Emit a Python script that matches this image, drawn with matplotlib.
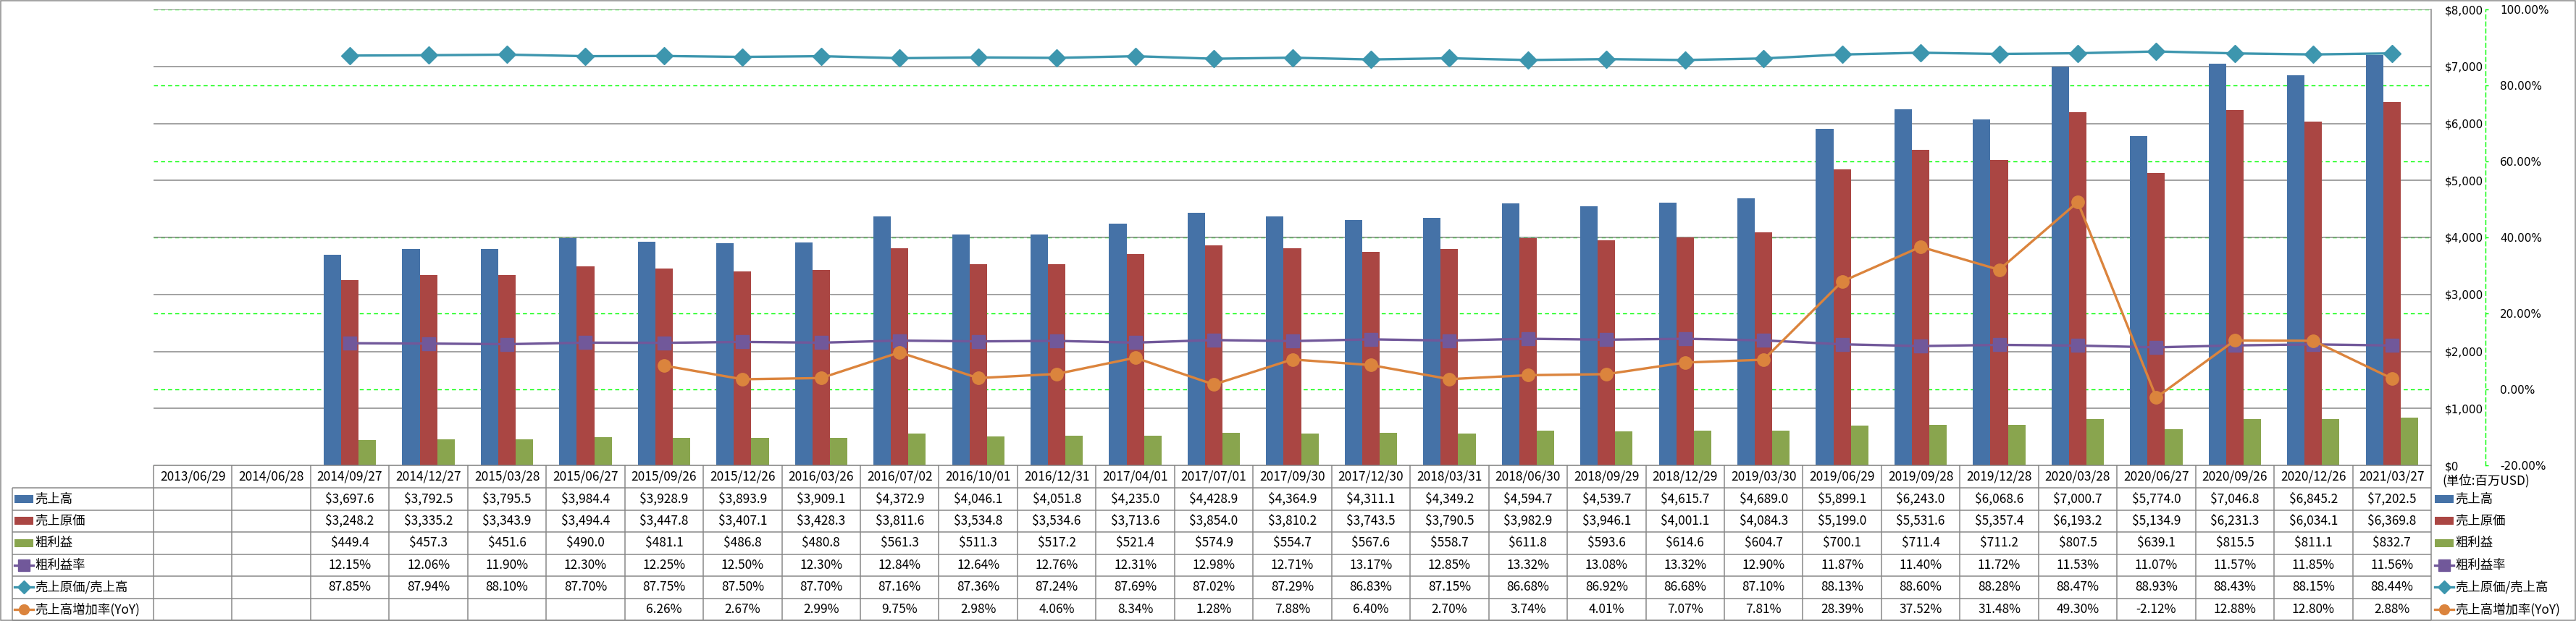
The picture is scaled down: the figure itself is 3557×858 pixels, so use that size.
import numpy as np
import matplotlib
matplotlib.use('Agg')
import matplotlib.pyplot as plt
from matplotlib.lines import Line2D
from matplotlib.patches import Rectangle

nan = np.nan
dates = ['2013/06/29', '2014/06/28', '2014/09/27', '2014/12/27', '2015/03/28', '2015/06/27',
         '2015/09/26', '2015/12/26', '2016/03/26', '2016/07/02', '2016/10/01', '2016/12/31',
         '2017/04/01', '2017/07/01', '2017/09/30', '2017/12/30', '2018/03/31', '2018/06/30',
         '2018/09/29', '2018/12/29', '2019/03/30', '2019/06/29', '2019/09/28', '2019/12/28',
         '2020/03/28', '2020/06/27', '2020/09/26', '2020/12/26', '2021/03/27']
sales = [nan, nan, 3697.6, 3792.5, 3795.5, 3984.4, 3928.9, 3893.9, 3909.1, 4372.9, 4046.1, 4051.8,
         4235.0, 4428.9, 4364.9, 4311.1, 4349.2, 4594.7, 4539.7, 4615.7, 4689.0, 5899.1, 6243.0,
         6068.6, 7000.7, 5774.0, 7046.8, 6845.2, 7202.5]
cost = [nan, nan, 3248.2, 3335.2, 3343.9, 3494.4, 3447.8, 3407.1, 3428.3, 3811.6, 3534.8, 3534.6,
        3713.6, 3854.0, 3810.2, 3743.5, 3790.5, 3982.9, 3946.1, 4001.1, 4084.3, 5199.0, 5531.6,
        5357.4, 6193.2, 5134.9, 6231.3, 6034.1, 6369.8]
gross = [nan, nan, 449.4, 457.3, 451.6, 490.0, 481.1, 486.8, 480.8, 561.3, 511.3, 517.2, 521.4,
         574.9, 554.7, 567.6, 558.7, 611.8, 593.6, 614.6, 604.7, 700.1, 711.4, 711.2, 807.5, 639.1,
         815.5, 811.1, 832.7]
gm_rate = [nan, nan, 12.15, 12.06, 11.90, 12.30, 12.25, 12.50, 12.30, 12.84, 12.64, 12.76, 12.31,
           12.98, 12.71, 13.17, 12.85, 13.32, 13.08, 13.32, 12.90, 11.87, 11.40, 11.72, 11.53,
           11.07, 11.57, 11.85, 11.56]
cost_ratio = [nan, nan, 87.85, 87.94, 88.10, 87.70, 87.75, 87.50, 87.70, 87.16, 87.36, 87.24,
              87.69, 87.02, 87.29, 86.83, 87.15, 86.68, 86.92, 86.68, 87.10, 88.13, 88.60, 88.28,
              88.47, 88.93, 88.43, 88.15, 88.44]
yoy = [nan, nan, nan, nan, nan, nan, 6.26, 2.67, 2.99, 9.75, 2.98, 4.06, 8.34, 1.28, 7.88, 6.40,
       2.70, 3.74, 4.01, 7.07, 7.81, 28.39, 37.52, 31.48, 49.30, -2.12, 12.88, 12.80, 2.88]
names = ['売上高', '売上原価', '粗利益', '粗利益率', '売上原価/売上高', '売上高増加率(YoY)']
usd_ticks = [0, 1000, 2000, 3000, 4000, 5000, 6000, 7000, 8000]
pct_ticks = [-20, 0, 20, 40, 60, 80, 100]
unit_label = '(単位:百万USD)'

C_BLUE, C_RED, C_GREEN = '#4572A7', '#AA4643', '#89A54E'
C_PURP, C_TEAL, C_ORNG = '#71589A', '#3D96AE', '#DB843D'
GRID = '#868686'
LIME = '#00FF00'

W, H, DPI = 3557, 858, 100
PX = 72 / DPI
fig = plt.figure(figsize=(W / DPI, H / DPI), dpi=DPI)
fig.patch.set_facecolor('white')

L, R, T, B = 212, 3357, 13, 643
rect = [L / W, 1 - B / H, (R - L) / W, (B - T) / H]
n = len(dates)
x = np.arange(n)

# secondary (percent) axis: background green grid + labels
axg = fig.add_axes(rect)
axg.set_zorder(0)
axg.patch.set_visible(False)
axg.set_xlim(-0.5, n - 0.5)
axg.set_ylim(-20, 100)
axg.set_xticks([])
axg.yaxis.tick_right()
axg.set_yticks(pct_ticks)
axg.set_yticklabels([f'{v:.2f}%' for v in pct_ticks])
axg.tick_params(axis='y', colors=LIME, labelcolor='black', length=4 * PX, width=1.4 * PX,
                pad=16 * PX, labelsize=11)
axg.get_yticklabels()[0].set_color('red')
axg.yaxis.grid(True, color=LIME, linestyle=(0, (4, 3)), linewidth=1.4 * PX)
for s in ['left', 'top', 'bottom']:
    axg.spines[s].set_visible(False)
axg.spines['right'].set_position(('outward', 75 * PX))
axg.spines['right'].set_color(LIME)
axg.spines['right'].set_linestyle((0, (4, 3)))
axg.spines['right'].set_linewidth(1.4 * PX)

# primary (USD) axis: bars
ax = fig.add_axes(rect)
ax.set_zorder(1)
ax.patch.set_visible(False)
ax.set_xlim(-0.5, n - 0.5)
ax.set_ylim(0, 8000)
ax.set_xticks([])
ax.yaxis.tick_right()
ax.set_yticks(usd_ticks)
ax.set_yticklabels([f'${v:,}' for v in usd_ticks])
ax.tick_params(axis='y', length=0, pad=19 * PX, labelsize=11)
ax.yaxis.grid(True, color=GRID, linewidth=1.5 * PX)
ax.set_axisbelow(True)
for s in ax.spines.values():
    s.set_visible(False)
w = 1 / 4.5
ax.bar(x - w, sales, w, color=C_BLUE, zorder=2)
ax.bar(x, cost, w, color=C_RED, zorder=2)
ax.bar(x + w, gross, w, color=C_GREEN, zorder=2)

# lines on percent scale
axl = fig.add_axes(rect)
axl.set_zorder(2)
axl.patch.set_visible(False)
axl.set_xlim(-0.5, n - 0.5)
axl.set_ylim(-20, 100)
axl.set_xticks([])
axl.set_yticks([])
for s in ['left', 'top', 'bottom']:
    axl.spines[s].set_visible(False)
axl.spines['right'].set_color(GRID)
axl.spines['right'].set_linewidth(1.5 * PX)
lw = 2.4
axl.plot(x, gm_rate, color=C_PURP, lw=lw, marker='s', ms=13, mfc=C_PURP, mec=C_PURP)
axl.plot(x, cost_ratio, color=C_TEAL, lw=lw, marker='D', ms=12, mfc=C_TEAL, mec=C_TEAL)
axl.plot(x, yoy, color=C_ORNG, lw=lw, marker='o', ms=12.5, mfc=C_ORNG, mec=C_ORNG)

# overlay for data table (pixel coordinates)
axo = fig.add_axes([0, 0, 1, 1])
axo.set_zorder(5)
axo.patch.set_visible(False)
axo.set_xlim(0, W)
axo.set_ylim(H, 0)
axo.axis('off')

FONT = ['Noto Sans CJK JP', 'DejaVu Sans']
TFS = 12.5
col_w = (R - L) / n
y_head_top, y_head_bot, y_bot = 643, 674, 857
row_h = (y_bot - y_head_bot) / 6
tl = dict(color=GRID, lw=1.5 * PX, solid_capstyle='butt')

axo.add_line(Line2D([L, R], [y_head_top, y_head_top], **tl))
for k in range(7):
    yy = y_head_bot + k * row_h
    axo.add_line(Line2D([17, R], [yy, yy], **tl))
for i in range(n + 1):
    xx = L + i * col_w
    axo.add_line(Line2D([xx, xx], [y_head_top, y_bot], **tl))
axo.add_line(Line2D([17, 17], [y_head_bot, y_bot], **tl))
axo.add_patch(Rectangle((1, 1), W - 2.5, H - 2.5, fill=False, edgecolor=GRID, lw=1.5 * PX))

def fmt_money(v):
    return '' if np.isnan(v) else f'${v:,.1f}'

def fmt_pct(v):
    return '' if np.isnan(v) else f'{v:.2f}%'

rows = [[fmt_money(v) for v in sales], [fmt_money(v) for v in cost], [fmt_money(v) for v in gross],
        [fmt_pct(v) for v in gm_rate], [fmt_pct(v) for v in cost_ratio], [fmt_pct(v) for v in yoy]]

for i, d in enumerate(dates):
    axo.text(L + (i + 0.5) * col_w, (y_head_top + y_head_bot) / 2, d, ha='center', va='center',
             fontsize=TFS, family=FONT)
for r, row in enumerate(rows):
    yc = y_head_bot + (r + 0.5) * row_h
    for i, s in enumerate(row):
        if s:
            axo.text(L + (i + 0.5) * col_w, yc, s, ha='center', va='center', fontsize=TFS,
                     family=FONT)

colors = [C_BLUE, C_RED, C_GREEN, C_PURP, C_TEAL, C_ORNG]
markers = [None, None, None, ('s', 11.5), ('D', 8.7), ('o', 10)]

def legend_key(x0, yc, r):
    if markers[r] is None:
        axo.add_patch(Rectangle((x0, yc - 5.5), 26, 11, facecolor=colors[r], edgecolor='none'))
    else:
        m, ms = markers[r]
        axo.add_line(Line2D([x0, x0 + 26], [yc, yc], color=colors[r], lw=2.4))
        axo.add_line(Line2D([x0 + 13], [yc], marker=m, ms=ms, color=colors[r], mec=colors[r]))

for r, nm in enumerate(names):
    yc = y_head_bot + (r + 0.5) * row_h
    legend_key(20, yc, r)
    axo.text(48, yc, nm, ha='left', va='center', fontsize=TFS, family=FONT)
    legend_key(3362, yc, r)
    axo.text(3390, yc, nm, ha='left', va='center', fontsize=TFS, family=FONT)

axo.text(3372, 664, unit_label, ha='left', va='center', fontsize=TFS, family=FONT)

fig.savefig('out.png', dpi=DPI, facecolor='white')
